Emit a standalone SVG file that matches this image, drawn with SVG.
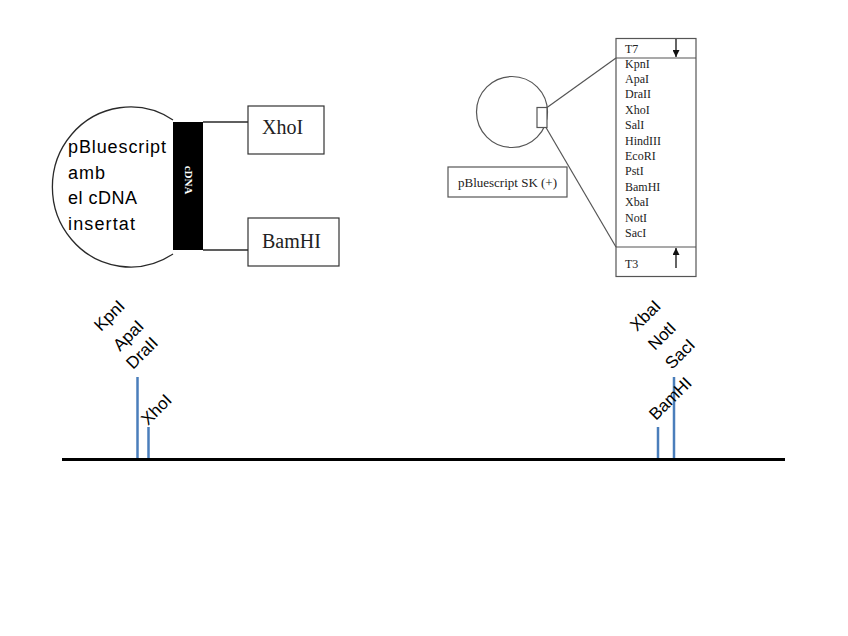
<svg xmlns="http://www.w3.org/2000/svg" width="848" height="636" viewBox="0 0 848 636">
<style>
.ln{stroke:#2a2a2a;stroke-width:1.3;fill:none}
.box{stroke:#333;stroke-width:1.2;fill:#fff}
.gr{stroke:#555;stroke-width:1.2;fill:none}
.serif{font-family:"Liberation Serif","Times New Roman",serif;fill:#222}
.sans{font-family:"Liberation Sans",Arial,sans-serif;fill:#000}
.blue{stroke:#4a7ebb;stroke-width:2.5}
</style>
<defs>
<marker id="ah" viewBox="0 0 10 10" refX="10" refY="5" markerWidth="7" markerHeight="7" markerUnits="userSpaceOnUse" orient="auto">
<path d="M0,0 L10,5 L0,10 z" fill="#111"/>
</marker>
</defs>
<rect width="848" height="636" fill="#fff"/>

<g id="plasmid-insert">
<path class="ln" d="M173,120 A78,80 0 1 0 173,254"/>
<rect x="173" y="122" width="30" height="128" fill="#000"/>
<text class="serif" font-size="11" font-weight="bold" style="fill:#fff" text-anchor="middle" transform="translate(185,180) rotate(90)">cDNA</text>
<text class="sans" font-size="18" x="68" y="153" textLength="98" lengthAdjust="spacing">pBluescript</text>
<text class="sans" font-size="18" x="68" y="179" textLength="37" lengthAdjust="spacing">amb</text>
<text class="sans" font-size="18" x="68" y="204" textLength="69" lengthAdjust="spacing">el cDNA</text>
<text class="sans" font-size="18" x="68" y="230" textLength="67" lengthAdjust="spacing">insertat</text>
</g>

<g id="xhoi-box">
<rect class="box" x="248" y="106" width="76" height="48"/>
<text class="serif" font-size="20" x="262" y="134">XhoI</text>
</g>

<g id="bamhi-box">
<rect class="box" x="248" y="218" width="91" height="48"/>
<text class="serif" font-size="20" x="262" y="248">BamHI</text>
</g>

<g id="sk-vector">
<circle class="gr" cx="512" cy="112" r="35.5"/>
<rect class="gr" x="537" y="107.5" width="10" height="20" style="fill:#fff"/>
</g>

<g id="sk-label">
<rect class="gr" x="448" y="167" width="119" height="30"/>
<text class="serif" font-size="13" x="507.5" y="187" text-anchor="middle">pBluescript SK (+)</text>
</g>

<g id="mcs-box">
<rect class="gr" x="616" y="38.5" width="80" height="238"/>
<line class="gr" x1="616" y1="58" x2="696" y2="58"/>
<line class="gr" x1="616" y1="247" x2="696" y2="247"/>
<text class="serif" font-size="12" x="625" y="53">T7</text>
<text class="serif" font-size="12" x="625" y="268">T3</text>
<line x1="676" y1="39" x2="676" y2="57" stroke="#111" stroke-width="1.3" marker-end="url(#ah)"/>
<line x1="676" y1="268" x2="676" y2="248" stroke="#111" stroke-width="1.3" marker-end="url(#ah)"/>
<g class="serif" font-size="12">
<text x="625" y="67.5">KpnI</text>
<text x="625" y="82.9">ApaI</text>
<text x="625" y="98.3">DraII</text>
<text x="625" y="113.7">XhoI</text>
<text x="625" y="129.1">SalI</text>
<text x="625" y="144.5">HindIII</text>
<text x="625" y="159.9">EcoRI</text>
<text x="625" y="175.3">PstI</text>
<text x="625" y="190.7">BamHI</text>
<text x="625" y="206.1">XbaI</text>
<text x="625" y="221.5">NotI</text>
<text x="625" y="236.9">SacI</text>
</g>
</g>

<g id="connectors">
<line class="ln" x1="203" y1="122" x2="248" y2="122"/>
<line class="ln" x1="203" y1="250" x2="248" y2="250"/>
<line class="gr" x1="547" y1="107.5" x2="616" y2="58"/>
<line class="gr" x1="546" y1="127.5" x2="616" y2="247"/>
</g>

<g id="map">
<line x1="62" y1="459.5" x2="785" y2="459.5" stroke="#000" stroke-width="3.2"/>
<line class="blue" x1="137.5" y1="377" x2="137.5" y2="458"/>
<line class="blue" x1="148.5" y1="427" x2="148.5" y2="458"/>
<line class="blue" x1="658" y1="427" x2="658" y2="458"/>
<line class="blue" x1="674" y1="377" x2="674" y2="458"/>
<g class="sans" font-size="17">
<text transform="translate(101,332) rotate(-45)">KpnI</text>
<text transform="translate(120,352) rotate(-45)">ApaI</text>
<text transform="translate(133,370) rotate(-45)">DraII</text>
<text transform="translate(148,426) rotate(-45)">XhoI</text>
<text transform="translate(637,332) rotate(-45)">XbaI</text>
<text transform="translate(655,351) rotate(-45)">NotI</text>
<text transform="translate(672,370) rotate(-45)">SacI</text>
<text transform="translate(656,421) rotate(-45)">BamHI</text>
</g>
</g>
</svg>
